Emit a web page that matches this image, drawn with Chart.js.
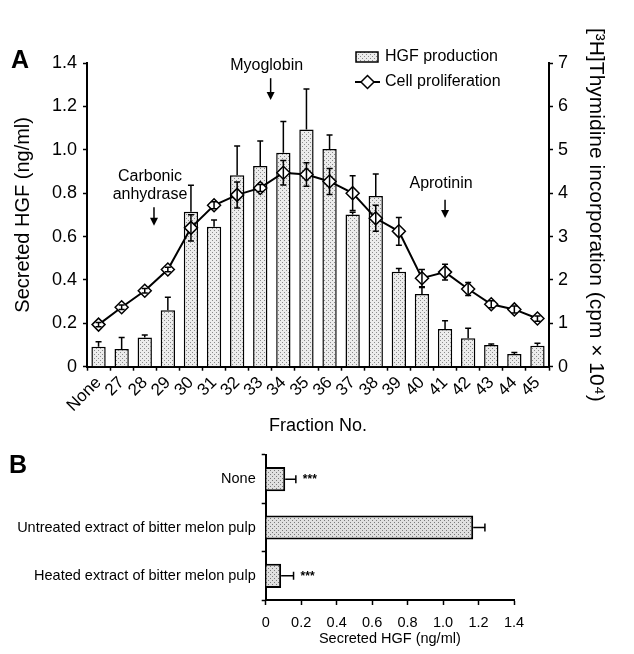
<!DOCTYPE html>
<html>
<head>
<meta charset="utf-8">
<script src="https://cdn.jsdelivr.net/npm/chart.js@4.4.1/dist/chart.umd.min.js"></script>
<style>
  html, body { margin: 0; padding: 0; background: #fff; }
  #wrap { position: relative; width: 634px; height: 654px; }
  canvas { position: absolute; left: 0; }
  #chartA { top: 0; }
  #chartB { top: 440px; }
  .panel { position: absolute; font: bold 25px 'Liberation Sans', Arial, sans-serif; line-height: 1; }
</style>
</head>
<body>
<div id="wrap">
  <canvas id="chartA" width="634" height="445"></canvas>
  <canvas id="chartB" width="634" height="214"></canvas>
  <div class="panel" style="left:11px;top:47px">A</div>
  <div class="panel" style="left:9px;top:452px">B</div>
</div>
<script>
// panel A: fractions from the column
const fractions = ['None','27','28','29','30','31','32','33','34','35','36','37','38','39','40','41','42','43','44','45'];
const hgfMean = [0.092,0.082,0.135,0.26,0.714,0.645,0.883,0.925,0.986,1.094,1.003,0.702,0.787,0.438,0.335,0.174,0.131,0.100,0.058,0.097];
const hgfSd   = [0.023,0.053,0.011,0.06,0.123,0.031,0.134,0.115,0.144,0.186,0.065,0.01,0.101,0.015,0.03,0.038,0.046,0.005,0.008,0.011];
const prolifMean = [0.97,1.37,1.75,2.24,3.2,3.72,3.96,4.12,4.47,4.43,4.27,4.0,3.42,3.12,2.04,2.18,1.79,1.44,1.32,1.11];
const prolifSd   = [0.05,0.05,0.05,0.05,0.3,0.08,0.3,0.08,0.28,0.27,0.3,0.4,0.3,0.32,0.2,0.18,0.15,0.08,0.08,0.06];

// panel B: treatments
const treatments = ['None','Untreated extract of bitter melon pulp','Heated extract of bitter melon pulp'];
const treatMean = [0.11,1.17,0.087];
const treatSd   = [0.06,0.066,0.07];
const treatSig  = ['***','','***'];

const SANS = "'Liberation Sans', Arial, sans-serif";
Chart.defaults.font.family = SANS;
Chart.defaults.color = '#000';

const fmt = v => v === 0 ? '0' : Number(v).toFixed(1);

function stipple(base, dot) {
  const c = document.createElement('canvas');
  c.width = 8; c.height = 8;
  const g = c.getContext('2d');
  g.fillStyle = base;
  g.fillRect(0, 0, 8, 8);
  g.fillStyle = dot;
  for (let y = 0; y < 8; y++) {
    for (let x = 0; x < 8; x++) {
      if (((x * 5 + y * 3) ^ (x * y)) % 4 === 0) g.fillRect(x, y, 1, 1);
    }
  }
  return g.createPattern(c, 'repeat');
}
const barFill = stipple('#ececec', '#8a8a8a');
const barFillB = stipple('#e0e0e0', '#7a7a7a');

function axisStyle(len) {
  return {
    grid: { display: true, drawOnChartArea: false, drawTicks: true, tickLength: len, color: '#000', tickWidth: 1.5 },
    border: { display: true, color: '#000', width: 2 }
  };
}

function arrowDown(ctx, x, y1, y2) {
  ctx.beginPath();
  ctx.moveTo(x, y1);
  ctx.lineTo(x, y2 - 6);
  ctx.stroke();
  ctx.beginPath();
  ctx.moveTo(x - 4, y2 - 8);
  ctx.lineTo(x + 4, y2 - 8);
  ctx.lineTo(x, y2);
  ctx.closePath();
  ctx.fill();
}

// markers: label lines, x in category index, y in HGF units
const markers = [
  { lines: ['Myoglobin'], at: 7.45, textY: 1.39, from: 1.33, to: 1.23 },
  { lines: ['Carbonic', 'anhydrase'], at: 2.4, textY: 0.878, from: 0.735, to: 0.65 },
  { lines: ['Aprotinin'], at: 15.0, textY: 0.845, from: 0.77, to: 0.685 }
];

const panelADecor = {
  id: 'panelADecor',
  afterDatasetDraw(chart, args) {
    const ctx = chart.ctx;
    const meta = chart.getDatasetMeta(args.index);
    ctx.save();
    ctx.strokeStyle = '#000';
    ctx.lineWidth = 1.5;
    if (args.index === 0) {
      const y = chart.scales.y;
      meta.data.forEach((bar, i) => {
        const top = y.getPixelForValue(hgfMean[i] + hgfSd[i]);
        ctx.beginPath();
        ctx.moveTo(bar.x, bar.y);
        ctx.lineTo(bar.x, top);
        ctx.moveTo(bar.x - 3, top);
        ctx.lineTo(bar.x + 3, top);
        ctx.stroke();
      });
    } else {
      const y1 = chart.scales.y1;
      meta.data.forEach((pt, i) => {
        const hi = y1.getPixelForValue(prolifMean[i] + prolifSd[i]);
        const lo = y1.getPixelForValue(prolifMean[i] - prolifSd[i]);
        ctx.beginPath();
        ctx.moveTo(pt.x, lo);
        ctx.lineTo(pt.x, hi);
        ctx.moveTo(pt.x - 3, hi);
        ctx.lineTo(pt.x + 3, hi);
        ctx.moveTo(pt.x - 3, lo);
        ctx.lineTo(pt.x + 3, lo);
        ctx.stroke();
      });
    }
    ctx.restore();
  },
  afterDraw(chart) {
    const ctx = chart.ctx;
    const x = chart.scales.x, y = chart.scales.y;
    const area = chart.chartArea;
    ctx.save();
    ctx.fillStyle = '#000';
    ctx.strokeStyle = '#000';
    ctx.lineWidth = 1.5;
    ctx.font = '16px ' + SANS;
    ctx.textAlign = 'center';
    ctx.textBaseline = 'middle';
    markers.forEach(m => {
      const px = x.getPixelForValue(m.at);
      const py = y.getPixelForValue(m.textY);
      m.lines.forEach((t, k) => ctx.fillText(t, px - 4, py + k * 18));
      arrowDown(ctx, px, y.getPixelForValue(m.from), y.getPixelForValue(m.to));
    });

    // legend
    const lx = area.left + 269, ly = area.top - 6;
    ctx.fillStyle = barFill;
    ctx.fillRect(lx, ly - 5, 22, 10);
    ctx.strokeRect(lx, ly - 5, 22, 10);
    ctx.beginPath();
    ctx.lineWidth = 2;
    ctx.moveTo(lx - 1, ly + 25);
    ctx.lineTo(lx + 24, ly + 25);
    ctx.stroke();
    ctx.beginPath();
    ctx.lineWidth = 1.5;
    ctx.moveTo(lx + 5, ly + 25);
    ctx.lineTo(lx + 11.5, ly + 18.5);
    ctx.lineTo(lx + 18, ly + 25);
    ctx.lineTo(lx + 11.5, ly + 31.5);
    ctx.closePath();
    ctx.fillStyle = '#fff';
    ctx.fill();
    ctx.stroke();
    ctx.fillStyle = '#000';
    ctx.textAlign = 'left';
    ctx.fillText('HGF production', lx + 29, ly);
    ctx.fillText('Cell proliferation', lx + 29, ly + 25);
    ctx.restore();
  }
};

new Chart(document.getElementById('chartA'), {
  data: {
    labels: fractions,
    datasets: [
      {
        type: 'bar', label: 'HGF production', data: hgfMean, yAxisID: 'y', order: 2,
        backgroundColor: barFill, borderColor: '#000', borderWidth: 1.5,
        categoryPercentage: 1, barPercentage: 0.62
      },
      {
        type: 'line', label: 'Cell proliferation', data: prolifMean, yAxisID: 'y1', order: 1,
        borderColor: '#000', borderWidth: 2, tension: 0,
        pointStyle: 'rectRot', pointRadius: 6.5, pointBackgroundColor: '#fff',
        pointBorderColor: '#000', pointBorderWidth: 1.5
      }
    ]
  },
  options: {
    responsive: false, animation: false, devicePixelRatio: 1,
    layout: { padding: { top: 63, bottom: 8, left: 0, right: 0 } },
    plugins: { legend: { display: false }, tooltip: { enabled: false } },
    scales: {
      x: {
        type: 'category', offset: true, ...axisStyle(4),
        ticks: { autoSkip: false, minRotation: 45, maxRotation: 45, padding: 2, font: { size: 17 } },
        title: { display: true, text: 'Fraction No.', font: { size: 18 }, padding: { top: 0, bottom: 0 } },
        afterFit(s) { s.height = 70.3; }
      },
      y: {
        position: 'left', min: 0, max: 1.4, ...axisStyle(4),
        ticks: { stepSize: 0.2, callback: fmt, padding: 6, font: { size: 18 } },
        title: { display: true, text: 'Secreted HGF (ng/ml)', font: { size: 20 }, padding: { top: 11, bottom: 0 } },
        afterFit(s) { s.width = 87; }
      },
      y1: {
        position: 'right', min: 0, max: 7, ...axisStyle(4),
        ticks: { stepSize: 1, padding: 5, font: { size: 18 } },
        title: { display: true, text: '[³H]Thymidine incorporation (cpm × 10⁴)', font: { size: 21 }, padding: { top: 26, bottom: 0 } },
        afterFit(s) { s.width = 85; }
      }
    }
  },
  plugins: [panelADecor]
});

const panelBDecor = {
  id: 'panelBDecor',
  afterDatasetsDraw(chart) {
    const ctx = chart.ctx;
    const x = chart.scales.x;
    const meta = chart.getDatasetMeta(0);
    ctx.save();
    ctx.strokeStyle = '#000';
    ctx.fillStyle = '#000';
    ctx.lineWidth = 1.5;
    ctx.font = 'bold 12px ' + SANS;
    ctx.textAlign = 'left';
    ctx.textBaseline = 'middle';
    meta.data.forEach((bar, i) => {
      const end = x.getPixelForValue(treatMean[i] + treatSd[i]);
      ctx.beginPath();
      ctx.moveTo(bar.x, bar.y);
      ctx.lineTo(end, bar.y);
      ctx.moveTo(end, bar.y - 4);
      ctx.lineTo(end, bar.y + 4);
      ctx.stroke();
      if (treatSig[i]) ctx.fillText(treatSig[i], end + 7, bar.y + 1);
    });
    ctx.restore();
  }
};

new Chart(document.getElementById('chartB'), {
  type: 'bar',
  data: {
    labels: treatments,
    datasets: [{
      label: 'Secreted HGF', data: treatMean,
      backgroundColor: barFillB, borderColor: '#000', borderWidth: 2,
      categoryPercentage: 1, barPercentage: 0.5
    }]
  },
  options: {
    indexAxis: 'y',
    responsive: false, animation: false, devicePixelRatio: 1,
    layout: { padding: { top: 15, right: 120, left: 0, bottom: 0 } },
    plugins: { legend: { display: false }, tooltip: { enabled: false } },
    scales: {
      x: {
        min: 0, max: 1.4, ...axisStyle(5),
        ticks: { stepSize: 0.2, callback: fmt, padding: 9, font: { size: 14.5 } },
        title: { display: true, text: 'Secreted HGF (ng/ml)', font: { size: 14.5 }, padding: { top: 0, bottom: 6 } },
        afterFit(s) { s.height = 54; }
      },
      y: {
        ...axisStyle(4),
        ticks: { padding: 6, font: { size: 14.5 } },
        afterFit(s) { s.width = 265.7; }
      }
    }
  },
  plugins: [panelBDecor]
});
</script>
</body>
</html>
